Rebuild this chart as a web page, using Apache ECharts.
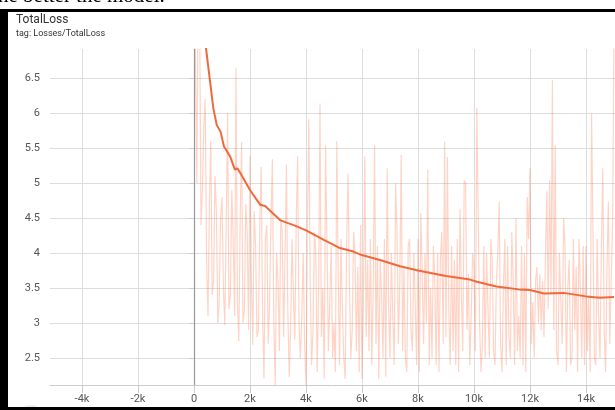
<!DOCTYPE html>
<html>
<head>
<meta charset="utf-8">
<script src="https://cdn.jsdelivr.net/npm/echarts@6/dist/echarts.min.js"></script>
<style>
html,body{margin:0;padding:0;background:#fff;}
#c{width:615px;height:410px;}
</style>
</head>
<body>
<div id="c"></div>
<script>
// ---- data ----
var title = 'TotalLoss';
var subtitle = 'tag: Losses/TotalLoss';
var xTicks = [-4000, -2000, 0, 2000, 4000, 6000, 8000, 10000, 12000, 14000];
var yTicks = [2.5, 3, 3.5, 4, 4.5, 5, 5.5, 6, 6.5];
var rawStepSize = 50;
var rawValues = [
  8.0, 6.8, 5.0, 7.9, 7.5, 4.4, 4.9, 5.8, 6.2, 3.9,
  3.1, 4.7, 5.6, 3.4, 3.6, 5.1, 4.6, 3.0, 3.3, 4.5,
  4.8, 3.5, 2.97, 4.4, 6.0, 3.2, 3.4, 4.9, 4.2, 3.1,
  6.64, 3.3, 2.74, 4.5, 5.59, 3.0, 3.2, 4.7, 4.3, 2.9,
  5.39, 3.6, 2.69, 4.6, 4.1, 2.8, 2.9, 4.4, 5.23, 3.1,
  2.21, 4.2, 4.4, 2.7, 3.3, 4.5, 5.34, 3.0, 2.11, 4.0,
  3.6, 2.6, 4.5, 4.3, 2.8, 3.9, 5.26, 3.2, 2.23, 2.9,
  4.2, 3.4, 2.76, 4.4, 5.39, 3.0, 2.5, 3.1, 4.0, 2.7,
  2.1, 4.3, 5.91, 3.6, 2.4, 2.9, 4.3, 4.0, 2.3, 3.4,
  6.12, 2.8, 3.5, 2.2, 5.54, 4.1, 2.6, 3.3, 4.1, 2.5,
  3.0, 2.3, 5.6, 3.7, 2.4, 4.2, 3.2, 2.5, 2.2, 4.1,
  5.14, 3.6, 2.5, 2.9, 4.3, 4.0, 2.6, 3.8, 2.3, 4.4,
  2.2, 3.3, 5.38, 2.8, 3.9, 2.6, 4.2, 2.4, 3.5, 5.54,
  2.7, 4.1, 2.2, 3.9, 3.4, 2.5, 4.2, 2.23, 5.21, 3.3,
  2.5, 4.0, 3.1, 2.4, 5.0, 4.3, 2.7, 3.6, 5.4, 2.6,
  3.8, 2.5, 2.3, 4.1, 4.2, 2.9, 2.6, 4.0, 3.3, 2.4,
  4.2, 2.3, 4.57, 3.7, 2.7, 4.0, 3.0, 5.19, 2.4, 3.5,
  2.5, 4.1, 3.6, 2.4, 4.0, 2.3, 3.9, 4.3, 2.7, 5.59,
  2.8, 5.37, 3.2, 2.4, 4.1, 2.6, 3.9, 2.4, 4.2, 2.3,
  4.63, 3.4, 2.6, 5.04, 5.0, 2.9, 3.7, 2.4, 3.1, 4.0,
  3.8, 2.6, 6.07, 4.57, 3.0, 2.3, 2.7, 4.1, 2.5, 4.0,
  3.2, 2.5, 4.2, 3.9, 2.6, 2.4, 3.6, 4.0, 4.73, 2.7,
  2.3, 3.5, 4.2, 2.4, 4.1, 2.8, 2.5, 4.3, 3.6, 2.4,
  4.5, 2.6, 3.1, 2.5, 4.1, 2.4, 4.0, 2.3, 4.8, 4.2,
  5.21, 2.7, 3.3, 2.5, 3.6, 3.8, 3.0, 3.7, 2.9, 3.6,
  2.8, 3.9, 4.88, 3.2, 5.04, 3.4, 6.47, 2.9, 5.54, 2.6,
  2.4, 4.0, 3.3, 2.7, 4.5, 4.1, 2.3, 3.5, 3.9, 2.4,
  2.5, 4.2, 2.9, 3.8, 2.3, 4.2, 3.5, 2.5, 4.1, 2.4,
  4.1, 2.6, 3.4, 2.3, 5.99, 4.3, 2.5, 2.4, 4.2, 3.1,
  2.5, 4.1, 5.21, 2.9, 2.3, 3.8, 4.73, 2.7, 3.6, 4.4,
  7.2
];
var smoothSteps = [0, 200, 430, 690, 810, 950, 1070, 1290, 1460, 1550, 1700, 2000, 2360, 2540, 3070, 3670, 4020, 4620, 5210, 5690, 5990, 6640, 7360, 8000, 9000, 9860, 10100, 10800, 11600, 12000, 12500, 13200, 14000, 14500, 15000];
var smoothValues = [8.6, 7.6, 6.92, 6.07, 5.83, 5.73, 5.52, 5.38, 5.19, 5.21, 5.11, 4.9, 4.69, 4.67, 4.47, 4.38, 4.32, 4.19, 4.07, 4.02, 3.97, 3.9, 3.81, 3.75, 3.67, 3.62, 3.59, 3.52, 3.48, 3.47, 3.42, 3.43, 3.38, 3.36, 3.37];

// ---- build ----
var rawData = rawValues.map(function (v, i) { return [i * rawStepSize, v]; });
var smoothData = smoothValues.map(function (v, i) { return [smoothSteps[i], v]; });

var chart = echarts.init(document.getElementById('c'), null, {renderer: 'canvas'});
var font = 'Roboto, "DejaVu Sans", sans-serif';
chart.setOption({
  animation: false,
  backgroundColor: '#fff',
  grid: {left: 50, right: 0, top: 49, bottom: 25},
  xAxis: {
    type: 'value',
    min: -5143, max: 15036,
    axisLine: {show: true, onZero: false, lineStyle: {color: '#ccc', width: 1}},
    axisTick: {show: true, length: 8, lineStyle: {color: '#ccc'}, customValues: xTicks},
    axisLabel: {
      customValues: xTicks, color: '#555', fontSize: 11, fontFamily: font, margin: 9,
      formatter: function (v) { return v === 0 ? '0' : (v / 1000) + 'k'; }
    },
    splitLine: {show: true, lineStyle: {color: '#ddd', width: 1}}
  },
  yAxis: {
    type: 'value',
    min: 2.114, max: 6.914,
    axisLine: {show: true, lineStyle: {color: '#ddd'}},
    axisTick: {show: true, length: 5, lineStyle: {color: '#ccc'}, customValues: yTicks},
    axisLabel: {customValues: yTicks, color: '#555', fontSize: 11, fontFamily: font, margin: 10},
    splitLine: {show: true, lineStyle: {color: '#ddd', width: 1}}
  },
  series: [
    {
      type: 'line', data: rawData, showSymbol: false, symbol: 'none', silent: true,
      lineStyle: {color: '#ff7043', width: 1.2, opacity: 0.3},
      z: 2
    },
    {
      type: 'line', data: smoothData, showSymbol: false, symbol: 'none', silent: true,
      lineStyle: {color: '#ef6a3b', width: 2},
      z: 3,
      markLine: {
        silent: true, symbol: 'none', label: {show: false},
        lineStyle: {color: '#999', type: 'solid', width: 1.2},
        data: [{xAxis: 0}]
      }
    }
  ],
  graphic: [
    {type: 'text', left: 16, top: 14, style: {text: title, font: '12px ' + font, fill: '#333'}},
    {type: 'text', left: 16, top: 29, style: {text: subtitle, font: '9px ' + font, fill: '#333'}},
    {type: 'text', left: -2, top: -14, style: {text: 'he better the model.', font: '21px "Liberation Serif", "DejaVu Serif", serif', fill: '#000'}},
    {type: 'rect', shape: {x: 0, y: 9, width: 615, height: 3}, style: {fill: '#000'}},
    {type: 'rect', shape: {x: 0, y: 9, width: 8, height: 401}, style: {fill: '#000'}},
    {type: 'rect', shape: {x: 0, y: 407, width: 615, height: 3}, style: {fill: '#000'}},
    {type: 'circle', shape: {cx: 31, cy: 419, r: 14}, style: {fill: '#eee'}, z: -1}
  ]
});
</script>
</body>
</html>
